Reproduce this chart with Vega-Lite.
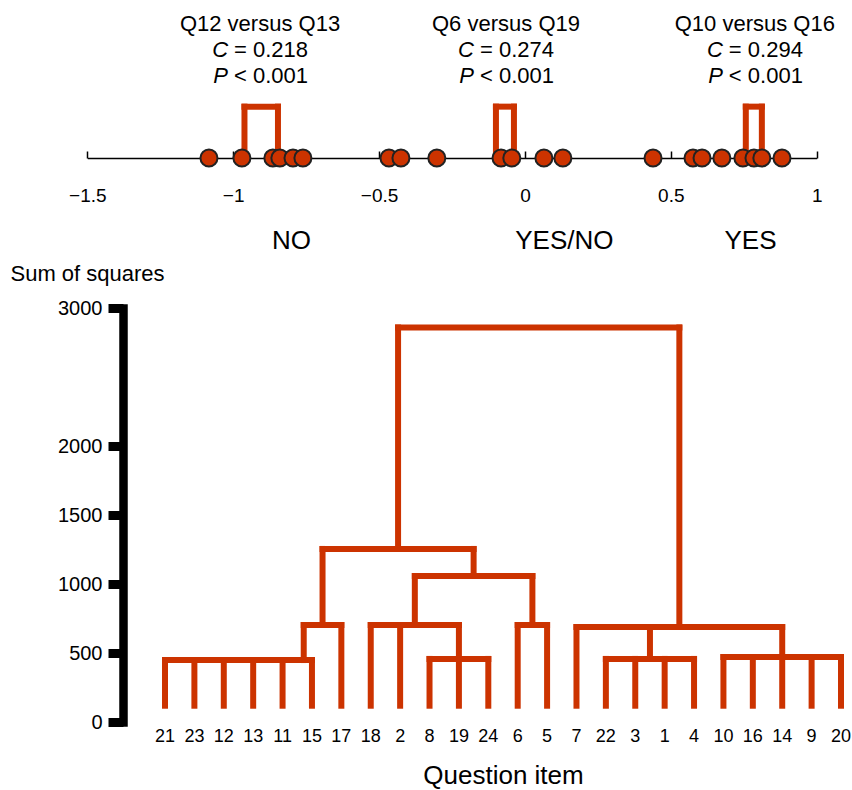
{
  "$schema": "https://vega.github.io/schema/vega-lite/v6.json",
  "width": 729,
  "height": 720,
  "autosize": {"type": "none"},
  "padding": {"left": 123, "top": 0, "right": 0, "bottom": 70},
  "background": "white",
  "config": {
    "view": {"stroke": null},
    "font": "Liberation Sans",
    "axis": {"labelFont": "Liberation Sans", "titleFont": "Liberation Sans", "labelColor": "#000", "titleColor": "#000", "titleFontWeight": "normal", "grid": false}
  },
  "datasets": {
    "dots": [
      {"r": -1.083}, {"r": -0.970}, {"r": -0.864}, {"r": -0.840}, {"r": -0.795}, {"r": -0.761},
      {"r": -0.466}, {"r": -0.425}, {"r": -0.302},
      {"r": -0.082}, {"r": -0.045}, {"r": 0.065}, {"r": 0.130},
      {"r": 0.439}, {"r": 0.576}, {"r": 0.607}, {"r": 0.675}, {"r": 0.747}, {"r": 0.785}, {"r": 0.812}, {"r": 0.881}
    ],
    "brackets": [
      {"r": -0.9613, "r2": -0.9613, "y": 0, "y2": 1.95},
      {"r": -0.8465, "r2": -0.8465, "y": 0, "y2": 1.95},
      {"r": -0.9613, "r2": -0.8465, "y": 1.95, "y2": 1.95},
      {"r": -0.0994, "r2": -0.0994, "y": 0, "y2": 1.95},
      {"r": -0.0377, "r2": -0.0377, "y": 0, "y2": 1.95},
      {"r": -0.0994, "r2": -0.0377, "y": 1.95, "y2": 1.95},
      {"r": 0.757, "r2": 0.757, "y": 0, "y2": 1.95},
      {"r": 0.812, "r2": 0.812, "y": 0, "y2": 1.95},
      {"r": 0.757, "r2": 0.812, "y": 1.95, "y2": 1.95}
    ],
    "notes": [
      {"r": -0.908, "title": "Q12 versus Q13", "c": "= 0.218", "p": "< 0.001"},
      {"r": -0.065, "title": "Q6 versus Q19", "c": "= 0.274", "p": "< 0.001"},
      {"r": 0.788, "title": "Q10 versus Q16", "c": "= 0.294", "p": "< 0.001"}
    ],
    "groups": [
      {"r": -0.80, "label": "NO"},
      {"r": 0.135, "label": "YES/NO"},
      {"r": 0.773, "label": "YES"}
    ],
    "leaves": [
      {"pos": 0, "q": "21"}, {"pos": 1, "q": "23"}, {"pos": 2, "q": "12"}, {"pos": 3, "q": "13"},
      {"pos": 4, "q": "11"}, {"pos": 5, "q": "15"}, {"pos": 6, "q": "17"}, {"pos": 7, "q": "18"},
      {"pos": 8, "q": "2"}, {"pos": 9, "q": "8"}, {"pos": 10, "q": "19"}, {"pos": 11, "q": "24"},
      {"pos": 12, "q": "6"}, {"pos": 13, "q": "5"}, {"pos": 14, "q": "7"}, {"pos": 15, "q": "22"},
      {"pos": 16, "q": "3"}, {"pos": 17, "q": "1"}, {"pos": 18, "q": "4"}, {"pos": 19, "q": "10"},
      {"pos": 20, "q": "16"}, {"pos": 21, "q": "14"}, {"pos": 22, "q": "9"}, {"pos": 23, "q": "20"}
    ],
    "tree": [
      {"pos": 0, "pos2": 0, "h": 118, "h2": 449},
      {"pos": 1, "pos2": 1, "h": 118, "h2": 449},
      {"pos": 2, "pos2": 2, "h": 118, "h2": 449},
      {"pos": 3, "pos2": 3, "h": 118, "h2": 449},
      {"pos": 4, "pos2": 4, "h": 118, "h2": 449},
      {"pos": 5, "pos2": 5, "h": 118, "h2": 449},
      {"pos": 6, "pos2": 6, "h": 118, "h2": 703},
      {"pos": 7, "pos2": 7, "h": 118, "h2": 703},
      {"pos": 8, "pos2": 8, "h": 118, "h2": 703},
      {"pos": 9, "pos2": 9, "h": 118, "h2": 457},
      {"pos": 10, "pos2": 10, "h": 118, "h2": 457},
      {"pos": 11, "pos2": 11, "h": 118, "h2": 457},
      {"pos": 12, "pos2": 12, "h": 118, "h2": 703},
      {"pos": 13, "pos2": 13, "h": 118, "h2": 703},
      {"pos": 14, "pos2": 14, "h": 118, "h2": 688},
      {"pos": 15, "pos2": 15, "h": 118, "h2": 457},
      {"pos": 16, "pos2": 16, "h": 118, "h2": 457},
      {"pos": 17, "pos2": 17, "h": 118, "h2": 457},
      {"pos": 18, "pos2": 18, "h": 118, "h2": 457},
      {"pos": 19, "pos2": 19, "h": 118, "h2": 471},
      {"pos": 20, "pos2": 20, "h": 118, "h2": 471},
      {"pos": 21, "pos2": 21, "h": 118, "h2": 471},
      {"pos": 22, "pos2": 22, "h": 118, "h2": 471},
      {"pos": 23, "pos2": 23, "h": 118, "h2": 471},
      {"pos": 4.72, "pos2": 4.72, "h": 449, "h2": 703},
      {"pos": 10, "pos2": 10, "h": 457, "h2": 703},
      {"pos": 16.5, "pos2": 16.5, "h": 457, "h2": 688},
      {"pos": 21, "pos2": 21, "h": 471, "h2": 688},
      {"pos": 5.36, "pos2": 5.36, "h": 703, "h2": 1254},
      {"pos": 8.5, "pos2": 8.5, "h": 703, "h2": 1058},
      {"pos": 12.5, "pos2": 12.5, "h": 703, "h2": 1058},
      {"pos": 10.5, "pos2": 10.5, "h": 1058, "h2": 1254},
      {"pos": 7.93, "pos2": 7.93, "h": 1254, "h2": 2859},
      {"pos": 17.5, "pos2": 17.5, "h": 688, "h2": 2859},
      {"pos": 0, "pos2": 5, "h": 449, "h2": 449},
      {"pos": 9, "pos2": 11, "h": 457, "h2": 457},
      {"pos": 15, "pos2": 18, "h": 457, "h2": 457},
      {"pos": 19, "pos2": 23, "h": 471, "h2": 471},
      {"pos": 4.72, "pos2": 6, "h": 703, "h2": 703},
      {"pos": 7, "pos2": 10, "h": 703, "h2": 703},
      {"pos": 12, "pos2": 13, "h": 703, "h2": 703},
      {"pos": 14, "pos2": 21, "h": 688, "h2": 688},
      {"pos": 8.5, "pos2": 12.5, "h": 1058, "h2": 1058},
      {"pos": 5.36, "pos2": 10.5, "h": 1254, "h2": 1254},
      {"pos": 7.93, "pos2": 17.5, "h": 2859, "h2": 2859}
    ]
  },
  "layer": [
    {
      "layer": [
        {
          "data": {"name": "brackets"},
          "mark": {"type": "rule", "color": "#cc3300", "strokeWidth": 6, "strokeCap": "square"},
          "encoding": {
            "x": {"field": "r", "type": "quantitative",
                  "scale": {"domain": [-1.5, 1], "range": [-35.7, 693.7], "nice": false, "zero": false},
                  "axis": {"orient": "bottom", "offset": -562, "values": [-1.5, -1, -0.5, 0, 0.5, 1], "format": "~g",
                           "domainColor": "#000", "domainWidth": 1.5, "tickColor": "#000", "tickWidth": 1.5, "tickSize": -7,
                           "labelPadding": 35, "labelFontSize": 19, "labelFlush": false, "labelOverlap": false, "title": null}},
            "x2": {"field": "r2"},
            "y": {"field": "y", "type": "quantitative", "scale": {"domain": [0, 6], "range": [158, 0], "nice": false, "zero": false}, "axis": null},
            "y2": {"field": "y2"}
          }
        },
        {
          "data": {"name": "dots"},
          "mark": {"type": "point", "shape": "circle", "filled": true, "fill": "#cc3300", "stroke": "#222", "strokeWidth": 2, "size": 290, "opacity": 1},
          "encoding": {
            "x": {"field": "r", "type": "quantitative", "scale": {"domain": [-1.5, 1], "range": [-35.7, 693.7], "nice": false, "zero": false}},
            "y": {"datum": 0, "type": "quantitative", "scale": {"domain": [0, 6], "range": [158, 0], "nice": false, "zero": false}, "axis": null}
          }
        },
        {
          "data": {"name": "notes"},
          "mark": {"type": "text", "fontSize": 22, "align": "center", "baseline": "alphabetic", "color": "#000"},
          "encoding": {
            "x": {"field": "r", "type": "quantitative", "scale": {"domain": [-1.5, 1], "range": [-35.7, 693.7], "nice": false, "zero": false}},
            "y": {"datum": 4.83, "type": "quantitative", "scale": {"domain": [0, 6], "range": [158, 0], "nice": false, "zero": false}, "axis": null},
            "text": {"field": "title"}
          }
        },
        {
          "data": {"name": "notes"},
          "mark": {"type": "text", "fontSize": 22, "fontStyle": "italic", "align": "right", "dx": -32, "baseline": "alphabetic", "color": "#000"},
          "encoding": {
            "x": {"field": "r", "type": "quantitative", "scale": {"domain": [-1.5, 1], "range": [-35.7, 693.7], "nice": false, "zero": false}},
            "y": {"datum": 3.824, "type": "quantitative", "scale": {"domain": [0, 6], "range": [158, 0], "nice": false, "zero": false}, "axis": null},
            "text": {"value": "C"}
          }
        },
        {
          "data": {"name": "notes"},
          "mark": {"type": "text", "fontSize": 22, "align": "left", "dx": -26, "baseline": "alphabetic", "color": "#000"},
          "encoding": {
            "x": {"field": "r", "type": "quantitative", "scale": {"domain": [-1.5, 1], "range": [-35.7, 693.7], "nice": false, "zero": false}},
            "y": {"datum": 3.824, "type": "quantitative", "scale": {"domain": [0, 6], "range": [158, 0], "nice": false, "zero": false}, "axis": null},
            "text": {"field": "c"}
          }
        },
        {
          "data": {"name": "notes"},
          "mark": {"type": "text", "fontSize": 22, "fontStyle": "italic", "align": "right", "dx": -32, "baseline": "alphabetic", "color": "#000"},
          "encoding": {
            "x": {"field": "r", "type": "quantitative", "scale": {"domain": [-1.5, 1], "range": [-35.7, 693.7], "nice": false, "zero": false}},
            "y": {"datum": 2.837, "type": "quantitative", "scale": {"domain": [0, 6], "range": [158, 0], "nice": false, "zero": false}, "axis": null},
            "text": {"value": "P"}
          }
        },
        {
          "data": {"name": "notes"},
          "mark": {"type": "text", "fontSize": 22, "align": "left", "dx": -26, "baseline": "alphabetic", "color": "#000"},
          "encoding": {
            "x": {"field": "r", "type": "quantitative", "scale": {"domain": [-1.5, 1], "range": [-35.7, 693.7], "nice": false, "zero": false}},
            "y": {"datum": 2.837, "type": "quantitative", "scale": {"domain": [0, 6], "range": [158, 0], "nice": false, "zero": false}, "axis": null},
            "text": {"field": "p"}
          }
        },
        {
          "data": {"name": "groups"},
          "mark": {"type": "text", "fontSize": 26, "align": "center", "baseline": "alphabetic", "color": "#000"},
          "encoding": {
            "x": {"field": "r", "type": "quantitative", "scale": {"domain": [-1.5, 1], "range": [-35.7, 693.7], "nice": false, "zero": false}},
            "y": {"datum": -3.467, "type": "quantitative", "scale": {"domain": [0, 6], "range": [158, 0], "nice": false, "zero": false}, "axis": null},
            "text": {"field": "label"}
          }
        }
      ]
    },
    {
      "layer": [
        {
          "data": {"name": "tree"},
          "mark": {"type": "rule", "color": "#cc3300", "strokeWidth": 6, "strokeCap": "square"},
          "encoding": {
            "x": {"field": "pos", "type": "quantitative",
                  "scale": {"domain": [0, 23], "range": [42, 718], "nice": false, "zero": false},
                  "axis": {"orient": "bottom", "title": "Question item", "labels": false, "ticks": false, "domain": false,
                           "titleFontSize": 26, "titleBaseline": "alphabetic", "titleY": 63}},
            "x2": {"field": "pos2"},
            "y": {"field": "h", "type": "quantitative",
                  "scale": {"domain": [0, 3000], "range": [722, 308], "nice": false, "zero": true},
                  "axis": {"orient": "left", "values": [0, 500, 1000, 1500, 2000, 3000], "format": "d",
                           "domainColor": "#000", "domainWidth": 8.5, "domainCap": "square",
                           "tickColor": "#000", "tickWidth": 9, "tickSize": 15,
                           "labelFontSize": 20, "labelPadding": 6, "labelFlush": false, "labelOverlap": false,
                           "title": "Sum of squares", "titleAngle": 0, "titleAlign": "left", "titleBaseline": "alphabetic",
                           "titleX": -113, "titleY": 280, "titleFontSize": 22}},
            "y2": {"field": "h2"}
          }
        },
        {
          "data": {"name": "leaves"},
          "mark": {"type": "text", "fontSize": 18, "align": "center", "baseline": "alphabetic", "dy": 20, "color": "#000"},
          "encoding": {
            "x": {"field": "pos", "type": "quantitative", "scale": {"domain": [0, 23], "range": [42, 718], "nice": false, "zero": false}},
            "y": {"datum": 0, "type": "quantitative", "scale": {"domain": [0, 3000], "range": [722, 308], "nice": false, "zero": true}},
            "text": {"field": "q"}
          }
        }
      ]
    }
  ],
  "resolve": {"scale": {"x": "independent", "y": "independent"}, "axis": {"x": "independent", "y": "independent"}}
}
